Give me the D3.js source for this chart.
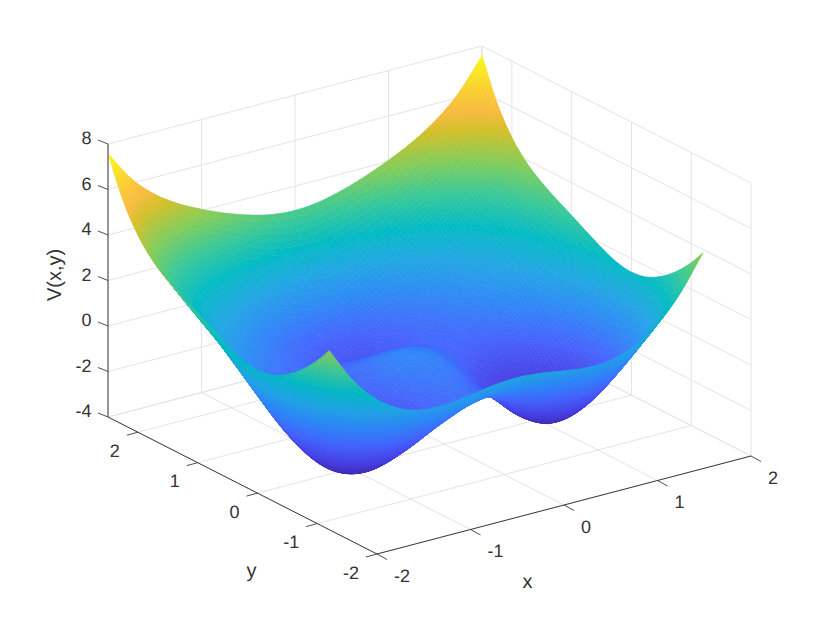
<!DOCTYPE html>
<html>
<head>
<meta charset="utf-8">
<script src="https://cdn.jsdelivr.net/npm/d3@7"></script>
<style>
  html, body { margin: 0; padding: 0; background: #fff; }
  text { font-family: "Liberation Sans", Arial, sans-serif; fill: #333; text-rendering: geometricPrecision; }
</style>
</head>
<body>
<script>
const w = 830;
const h = 623;

const xTicks = [-2, -1, 0, 1, 2];
const yTicks = [-2, -1, 0, 1, 2];
const zTicks = [-4, -2, 0, 2, 4, 6, 8];

// surface samples, one row per entry of yGrid, one value per entry of xGrid
const xGrid = [-2, -1.75, -1.5, -1.25, -1, -0.75, -0.5, -0.25, 0, 0.25, 0.5, 0.75, 1, 1.25, 1.5, 1.75, 2];
const yGrid = [2.5, 2.25, 2, 1.75, 1.5, 1.25, 1, 0.75, 0.5, 0.25, 0, -0.25, -0.5, -0.75, -1, -1.2];
const zRows = [
  [7.58, 6.21, 5.26, 4.58, 4.06, 3.62, 3.27, 3.02, 2.93, 3.02, 3.27, 3.62, 4.06, 4.58, 5.26, 6.21, 7.58],
  [5.85, 4.46, 3.47, 2.73, 2.11, 1.56, 1.08, 0.74, 0.62, 0.74, 1.08, 1.56, 2.11, 2.73, 3.47, 4.46, 5.85],
  [4.66, 3.25, 2.22, 1.42, 0.73, 0.09, -0.47, -0.87, -1.02, -0.87, -0.47, 0.09, 0.73, 1.42, 2.22, 3.25, 4.66],
  [3.87, 2.43, 1.36, 0.53, -0.18, -0.83, -1.39, -1.80, -1.94, -1.80, -1.39, -0.83, -0.18, 0.53, 1.36, 2.43, 3.87],
  [3.34, 1.85, 0.75, -0.09, -0.76, -1.31, -1.76, -2.06, -2.17, -2.06, -1.76, -1.31, -0.76, -0.09, 0.75, 1.85, 3.34],
  [2.93, 1.36, 0.21, -0.62, -1.18, -1.53, -1.73, -1.83, -1.86, -1.83, -1.73, -1.53, -1.18, -0.62, 0.21, 1.36, 2.93],
  [2.56, 0.87, -0.38, -1.21, -1.63, -1.71, -1.57, -1.39, -1.31, -1.39, -1.57, -1.71, -1.63, -1.21, -0.38, 0.87, 2.56],
  [2.18, 0.31, -1.08, -1.94, -2.24, -2.04, -1.54, -1.06, -0.86, -1.06, -1.54, -2.04, -2.24, -1.94, -1.08, 0.31, 2.18],
  [1.81, -0.24, -1.80, -2.74, -2.97, -2.55, -1.76, -1.02, -0.72, -1.02, -1.76, -2.55, -2.97, -2.74, -1.80, -0.24, 1.81],
  [1.52, -0.68, -2.38, -3.41, -3.64, -3.10, -2.13, -1.24, -0.88, -1.24, -2.13, -3.10, -3.64, -3.41, -2.38, -0.68, 1.52],
  [1.41, -0.86, -2.63, -3.71, -3.97, -3.44, -2.46, -1.55, -1.18, -1.55, -2.46, -3.44, -3.97, -3.71, -2.63, -0.86, 1.41],
  [1.53, -0.68, -2.41, -3.50, -3.80, -3.37, -2.51, -1.70, -1.37, -1.70, -2.51, -3.37, -3.80, -3.50, -2.41, -0.68, 1.53],
  [1.89, -0.18, -1.78, -2.79, -3.13, -2.84, -2.19, -1.56, -1.30, -1.56, -2.19, -2.84, -3.13, -2.79, -1.78, -0.18, 1.89],
  [2.44, 0.57, -0.84, -1.74, -2.09, -1.95, -1.52, -1.08, -0.90, -1.08, -1.52, -1.95, -2.09, -1.74, -0.84, 0.57, 2.44],
  [3.16, 1.48, 0.26, -0.51, -0.86, -0.83, -0.59, -0.33, -0.22, -0.33, -0.59, -0.83, -0.86, -0.51, 0.26, 1.48, 3.16],
  [3.87, 2.32, 1.22, 0.53, 0.20, 0.16, 0.29, 0.45, 0.52, 0.45, 0.29, 0.16, 0.20, 0.53, 1.22, 2.32, 3.87]
];

// parula
const parula = ["rgb(62,38,168)", "rgb(71,65,229)", "rgb(69,99,253)", "rgb(46,135,247)", "rgb(32,165,227)", "rgb(2,186,195)",
  "rgb(55,200,151)", "rgb(129,204,89)", "rgb(209,191,39)", "rgb(248,186,61)", "rgb(250,211,44)", "rgb(249,251,21)"];
const parulaStops = [0, 0.095, 0.19, 0.286, 0.381, 0.476, 0.571, 0.667, 0.762, 0.825, 0.905, 1];

const svg = d3.select("body").append("svg").attr("width", w).attr("height", h);

// softens the facets of the shaded surface
svg.append("defs").append("filter")
  .attr("id", "soft")
  .attr("filterUnits", "userSpaceOnUse")
  .attr("x", 0).attr("y", 0).attr("width", w).attr("height", h)
  .append("feGaussianBlur")
  .attr("stdDeviation", 0.7);

// box coordinates, 0..1 along each axis
const xScale = d3.scaleLinear().domain([-2, 2]).range([0, 1]);
const yScale = d3.scaleLinear().domain([-2, 2.5]).range([0, 1]);
const zScale = d3.scaleLinear().domain([-4, 8]).range([0, 1]);

const zExtent = d3.extent(zRows.flat());
const colorNorm = d3.scaleLinear().domain(zExtent).range([0, 1]);
const colorScale = d3.scaleLinear().domain(parulaStops).range(parula).interpolate(d3.interpolateRgb);

// orthographic view, front floor corner at (377,554)
function project(x, y, z) {
  const a = xScale(x), b = yScale(y), c = zScale(z);
  return [377 + 374 * a - 269 * b, 554 - 98 * a - 137 * b - 273 * c];
}
function depth(x, y, z) {
  return 269 * xScale(x) + 374 * yScale(y) - 284 * zScale(z);
}

function seg(a, b, color, width) {
  const p = project(a[0], a[1], a[2]), q = project(b[0], b[1], b[2]);
  svg.append("line")
    .attr("x1", p[0]).attr("y1", p[1])
    .attr("x2", q[0]).attr("y2", q[1])
    .attr("stroke", color).attr("stroke-width", width);
}

// grid on floor and the two back walls
const gridColor = "#e4e4e4";
xTicks.forEach((x) => {
  seg([x, -2, -4], [x, 2.5, -4], gridColor, 1);
  seg([x, 2.5, -4], [x, 2.5, 8], gridColor, 1);
});
yTicks.concat([2.5]).forEach((y) => {
  seg([-2, y, -4], [2, y, -4], gridColor, 1);
  seg([2, y, -4], [2, y, 8], gridColor, 1);
});
zTicks.forEach((z) => {
  seg([-2, 2.5, z], [2, 2.5, z], gridColor, 1);
  seg([2, 2.5, z], [2, -2, z], gridColor, 1);
});

// shaded surface: each grid cell is split for interpolated shading
const split = 9;

function spline(p0, p1, p2, p3, t) {
  return 0.5 * (2 * p1 + (p2 - p0) * t + (2 * p0 - 5 * p1 + 4 * p2 - p3) * t * t + (3 * p1 - p0 - 3 * p2 + p3) * t * t * t);
}
function refine(arr) {
  const out = [];
  const n = arr.length;
  const at = (i) => (i < 0 ? 2 * arr[0] - arr[1] : i >= n ? 2 * arr[n - 1] - arr[n - 2] : arr[i]);
  for (let i = 0; i < n - 1; i++) {
    for (let k = 0; k < split; k++) {
      out.push(spline(at(i - 1), at(i), at(i + 1), at(i + 2), k / split));
    }
  }
  out.push(arr[n - 1]);
  return out;
}

const fineX = refine(xGrid);
const fineY = refine(yGrid);
const acrossX = zRows.map(refine);
const fineZ = fineX.map((_, i) => refine(acrossX.map((r) => r[i])));

const quads = [];
for (let i = 0; i < fineX.length - 1; i++) {
  for (let j = 0; j < fineY.length - 1; j++) {
    const corners = [[i, j], [i + 1, j], [i + 1, j + 1], [i, j + 1]].map((c) => [fineX[c[0]], fineY[c[1]], fineZ[c[0]][c[1]]]);
    const mx = d3.mean(corners, (c) => c[0]);
    const my = d3.mean(corners, (c) => c[1]);
    const mz = d3.mean(corners, (c) => c[2]);
    quads.push({
      pts: corners.map((c) => project(c[0], c[1], c[2])),
      z: mz,
      d: depth(mx, my, mz)
    });
  }
}
quads.sort((a, b) => b.d - a.d);

const quadPath = d3.line().curve(d3.curveLinearClosed);
svg.append("g")
  .attr("filter", "url(#soft)")
  .selectAll("path")
  .data(quads)
  .join("path")
  .attr("d", (d) => quadPath(d.pts))
  .attr("fill", (d) => colorScale(colorNorm(d.z)))
  .attr("stroke", (d) => colorScale(colorNorm(d.z)))
  .attr("stroke-width", 0.5);

// axes
const axisColor = "#3a3a3a";
seg([-2, 2.5, -4], [-2, 2.5, 8], axisColor, 1);
seg([-2, 2.5, -4], [-2, -2, -4], axisColor, 1);
seg([-2, -2, -4], [2, -2, -4], axisColor, 1);

function tick(p, dx, dy) {
  svg.append("line")
    .attr("x1", p[0]).attr("y1", p[1])
    .attr("x2", p[0] + dx).attr("y2", p[1] + dy)
    .attr("stroke", axisColor).attr("stroke-width", 0.9);
}
function label(px, py, str, anchor, size) {
  return svg.append("text")
    .attr("x", px).attr("y", py)
    .attr("text-anchor", anchor)
    .attr("font-size", size)
    .text(str);
}

const tickSize = 18;
zTicks.forEach((z) => {
  const p = project(-2, 2.5, z);
  tick(p, -10, -4);
  label(p[0] - 16.5, p[1] + 0.3, z, "end", tickSize);
});
yTicks.forEach((y) => {
  const p = project(-2, y, -4);
  tick(p, -11, 3);
  label(p[0] - 18, p[1] + 24.5, y, "end", tickSize);
});
xTicks.forEach((x) => {
  const p = project(x, -2, -4);
  tick(p, 10, 5.5);
  label(p[0] + 17, p[1] + 27.8, x, "start", tickSize);
});

label(527.5, 587.5, "x", "middle", 20);
label(251.5, 577, "y", "middle", 20);
svg.append("text")
  .attr("transform", "translate(61,275) rotate(-90)")
  .attr("text-anchor", "middle")
  .attr("font-size", 20)
  .text("V(x,y)");
</script>
</body>
</html>
